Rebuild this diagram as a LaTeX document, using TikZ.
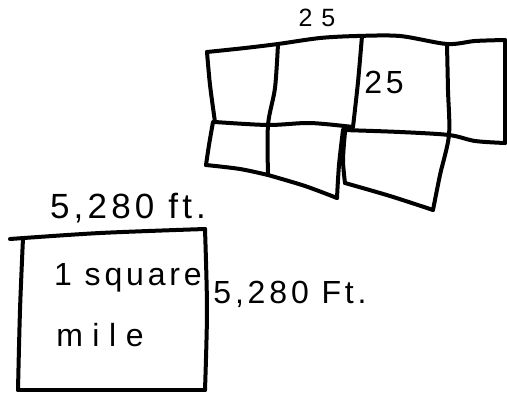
\documentclass[tikz,border=0pt]{standalone}
\usepackage{fontspec}
\setmainfont{Liberation Sans}
\newfontfamily\handfont[LetterSpace=12]{Liberation Sans}
\newfontfamily\widehandfont[LetterSpace=30]{Liberation Sans}
\tikzset{
    pen/.style={line width=4pt,line cap=round,line join=round},
    hand/.style={inner sep=0pt,anchor=center},
    bigtxt/.style={hand,font=\handfont\fontsize{35}{37}\selectfont},
    midtxt/.style={hand,font=\handfont\fontsize{32}{34}\selectfont},
    widetxt/.style={hand,font=\widehandfont\fontsize{32}{34}\selectfont},
    smalltxt/.style={hand,font=\handfont\fontsize{25}{27}\selectfont}
}

\begin{document}
\begin{tikzpicture}[x=1pt,y=-1pt]
    \useasboundingbox (0,0) rectangle (507,394);
    % the plots
    \draw[pen] plot[smooth] coordinates {(207,52) (245,48) (278,44) (320,38) (357,36) (400,36) (447,44) (475,41) (505,40)};
    \draw[pen] plot[smooth] coordinates {(207,52) (210,85) (215,122)};
    \draw[pen] plot[smooth] coordinates {(215,122) (268,125) (310,123) (353,127)};
    \draw[pen] plot[smooth] coordinates {(343,130) (400,132) (449,135) (475,141) (505,143)};
    \draw[pen] (505,40) -- (505,143);
    \draw[pen] plot[smooth] coordinates {(278,44) (275,88) (268,125) (268,175)};
    \draw[pen] plot[smooth] coordinates {(362,36) (358,82) (353,127)};
    \draw[pen] plot[smooth] coordinates {(447,44) (448,90) (449,135) (440,175) (433,210)};
    \draw[pen] plot[smooth] coordinates {(213,122) (209,145) (206,165)};
    \draw[pen] plot[smooth] coordinates {(206,165) (240,169) (268,175)};
    \draw[pen] plot[smooth] coordinates {(268,175) (305,186) (337,198)};
    \draw[pen] plot[smooth] coordinates {(343,130) (339,165) (337,198)};
    \draw[pen] plot[smooth] coordinates {(345,132) (343,160) (345,183)};
    \draw[pen] plot[smooth] coordinates {(345,183) (390,196) (433,210)};
    % the square mile
    \draw[pen] plot[smooth] coordinates {(10,239) (100,233) (205,229)};
    \draw[pen] plot[smooth] coordinates {(23,238) (20,310) (18,390)};
    \draw[pen] (18,390) -- (205,390);
    \draw[pen] plot[smooth] coordinates {(205,229) (207,310) (205,390)};
    % labels
    \node[smalltxt] (plotTop) at (317,18) {2\hspace{0.35em}5};
    \node[midtxt] (plotSide) at (384,82) {25};
    \node[bigtxt] (mileTop) at (128,208) {5,280 ft.};
    \node[midtxt] (mileSide) at (290,294) {5,280 Ft.};
    \node[midtxt] (mileIn1) at (128,278) {1 square};
    \node[widetxt] (mileIn2) at (100,335) {mile};
\end{tikzpicture}
\end{document}
